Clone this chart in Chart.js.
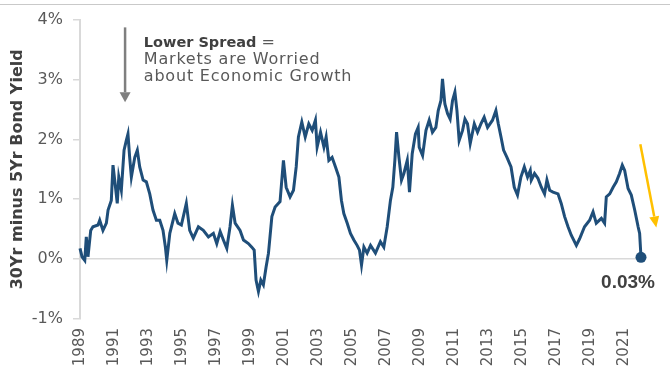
<!DOCTYPE html>
<html>
<head>
<meta charset="utf-8">
<title>30Yr minus 5Yr Bond Yield</title>
<script src="https://cdn.jsdelivr.net/npm/chart.js@4.4.1/dist/chart.umd.min.js"></script>
<style>
  html, body { margin: 0; padding: 0; background: #fff; }
  #wrap { position: relative; width: 670px; height: 375px; }
  #topRule { position: absolute; left: 0; right: 0; top: 4px; border-top: 1.5px solid #c9c9c9; }
</style>
</head>
<body>
<div id="wrap">
  <div id="topRule"></div>
  <canvas id="spreadChart"></canvas>
</div>
<script>
// values: decimal year and spread in %
const years = [
  1989.00, 1989.12, 1989.28, 1989.37, 1989.47, 1989.63, 1989.76, 1990.06, 1990.16, 1990.35,
  1990.55, 1990.65, 1990.84, 1990.94, 1991.04, 1991.19, 1991.28, 1991.43, 1991.59, 1991.72,
  1991.82, 1991.92, 1992.02, 1992.22, 1992.37, 1992.51, 1992.71, 1992.90, 1993.10, 1993.29,
  1993.49, 1993.69, 1993.88, 1994.02, 1994.10, 1994.28, 1994.57, 1994.76, 1994.96, 1995.25,
  1995.45, 1995.66, 1995.96, 1996.25, 1996.55, 1996.84, 1997.04, 1997.24, 1997.43, 1997.63,
  1997.82, 1997.96, 1998.12, 1998.41, 1998.61, 1998.90, 1999.10, 1999.24, 1999.35, 1999.49,
  1999.63, 1999.78, 1999.94, 2000.08, 2000.28, 2000.47, 2000.76, 2000.96, 2001.12, 2001.35,
  2001.55, 2001.71, 2001.84, 2002.04, 2002.24, 2002.45, 2002.65, 2002.84, 2002.94, 2003.14,
  2003.34, 2003.47, 2003.63, 2003.82, 2004.02, 2004.22, 2004.37, 2004.51, 2004.71, 2004.90,
  2005.10, 2005.29, 2005.43, 2005.55, 2005.69, 2005.88, 2006.08, 2006.37, 2006.66, 2006.86,
  2007.06, 2007.25, 2007.39, 2007.51, 2007.61, 2007.75, 2007.90, 2008.04, 2008.24, 2008.37,
  2008.53, 2008.72, 2008.88, 2008.94, 2009.14, 2009.34, 2009.53, 2009.72, 2009.92, 2010.06,
  2010.22, 2010.31, 2010.45, 2010.61, 2010.76, 2010.90, 2011.04, 2011.16, 2011.29, 2011.49,
  2011.63, 2011.78, 2011.94, 2012.18, 2012.37, 2012.57, 2012.76, 2012.96, 2013.25, 2013.45,
  2013.59, 2013.75, 2013.90, 2014.10, 2014.34, 2014.53, 2014.72, 2014.92, 2015.12, 2015.31,
  2015.47, 2015.53, 2015.72, 2015.92, 2016.12, 2016.31, 2016.45, 2016.61, 2016.81, 2017.10,
  2017.29, 2017.49, 2017.69, 2017.88, 2018.18, 2018.37, 2018.66, 2018.96, 2019.16, 2019.35,
  2019.65, 2019.84, 2019.94, 2020.14, 2020.34, 2020.53, 2020.72, 2020.88, 2021.02, 2021.22,
  2021.41, 2021.61, 2021.81, 2021.90, 2021.98
];
const spread = [
  0.18, 0.04, -0.02, 0.37, 0.04, 0.48, 0.54, 0.57, 0.65, 0.48,
  0.60, 0.82, 0.98, 1.57, 1.32, 0.93, 1.37, 1.15, 1.82, 1.98,
  2.09, 1.70, 1.37, 1.70, 1.82, 1.54, 1.32, 1.29, 1.09, 0.82,
  0.65, 0.65, 0.48, 0.20, -0.02, 0.43, 0.76, 0.60, 0.57, 0.93,
  0.48, 0.35, 0.54, 0.48, 0.37, 0.43, 0.26, 0.46, 0.32, 0.18,
  0.54, 0.90, 0.60, 0.48, 0.32, 0.26, 0.20, 0.15, -0.35, -0.54,
  -0.35, -0.43, -0.13, 0.10, 0.71, 0.87, 0.96, 1.65, 1.20, 1.04,
  1.15, 1.54, 2.04, 2.29, 2.04, 2.26, 2.15, 2.32, 1.87, 2.12,
  1.87, 2.04, 1.65, 1.70, 1.54, 1.37, 0.98, 0.76, 0.60, 0.43,
  0.32, 0.23, 0.15, -0.10, 0.20, 0.10, 0.23, 0.10, 0.29, 0.20,
  0.54, 0.98, 1.20, 1.65, 2.12, 1.70, 1.32, 1.43, 1.65, 1.12,
  1.76, 2.09, 2.20, 1.87, 1.73, 2.15, 2.32, 2.12, 2.20, 2.48,
  2.65, 3.01, 2.59, 2.43, 2.34, 2.65, 2.79, 2.48, 1.98, 2.15,
  2.34, 2.26, 1.93, 2.26, 2.12, 2.26, 2.37, 2.20, 2.32, 2.48,
  2.26, 2.04, 1.82, 1.70, 1.54, 1.20, 1.07, 1.37, 1.54, 1.37,
  1.48, 1.32, 1.43, 1.35, 1.20, 1.09, 1.32, 1.15, 1.12, 1.09,
  0.93, 0.71, 0.54, 0.40, 0.23, 0.34, 0.54, 0.65, 0.79, 0.60,
  0.68, 0.60, 1.04, 1.09, 1.20, 1.29, 1.43, 1.57, 1.48, 1.18,
  1.07, 0.82, 0.54, 0.43, 0.03
];
const yearTicks = [1989, 1991, 1993, 1995, 1997, 1999, 2001, 2003, 2005, 2007, 2009, 2011, 2013, 2015, 2017, 2019, 2021];
const pctTicks = [-1, 0, 1, 2, 3, 4];
const axisTitle = "30Yr minus 5Yr Bond Yield";
const noteBold = "Lower Spread";
const noteRest = ["Markets are Worried", "about Economic Growth"];
const lastLabel = "0.03%";

const NAVY = "#1f4e79";
const GREY_TXT = "#595959";
const DARK_TXT = "#404040";
const AXIS_GREY = "#d9d9d9";

function drawArrow(ctx, x1, y1, x2, y2, color, width, headLen, headHalf) {
    const ang = Math.atan2(y2 - y1, x2 - x1);
    const bx = x2 - headLen * Math.cos(ang);
    const by = y2 - headLen * Math.sin(ang);
    ctx.strokeStyle = color;
    ctx.fillStyle = color;
    ctx.lineWidth = width;
    ctx.beginPath();
    ctx.moveTo(x1, y1);
    ctx.lineTo(bx, by);
    ctx.stroke();
    ctx.beginPath();
    ctx.moveTo(x2, y2);
    ctx.lineTo(bx + headHalf * Math.sin(ang), by - headHalf * Math.cos(ang));
    ctx.lineTo(bx - headHalf * Math.sin(ang), by + headHalf * Math.cos(ang));
    ctx.closePath();
    ctx.fill();
}

// arrows, note text and end label
const notes = {
    id: "notes",
    afterDatasetsDraw(chart) {
        const { ctx, scales: { x, y } } = chart;
        ctx.save();

        // grey arrow + comment
        drawArrow(ctx, x.getPixelForValue(1991.65), y.getPixelForValue(3.87),
            x.getPixelForValue(1991.65), y.getPixelForValue(2.62), "#7f7f7f", 2.5, 10, 5.5);

        const tx = x.getPixelForValue(1992.75);
        const ty = y.getPixelForValue(3.54);
        ctx.textAlign = "left";
        ctx.textBaseline = "alphabetic";
        ctx.font = "bold 14.5px 'DejaVu Sans'";
        ctx.fillStyle = DARK_TXT;
        ctx.fillText(noteBold, tx, ty);
        const w = ctx.measureText(noteBold).width;
        ctx.font = "16px 'DejaVu Sans'";
        ctx.fillStyle = GREY_TXT;
        ctx.fillText(" =", tx + w, ty);
        ctx.letterSpacing = "0.8px";
        noteRest.forEach((line, i) => ctx.fillText(line, tx, ty + 17 * (i + 1)));
        ctx.letterSpacing = "0px";

        // yellow arrow to the right of the last value
        drawArrow(ctx, x.getPixelForValue(2021.94), y.getPixelForValue(1.92),
            x.getPixelForValue(2022.88), y.getPixelForValue(0.53), "#ffc000", 2.5, 11, 5);

        // end value label
        const meta = chart.getDatasetMeta(0);
        const last = meta.data[meta.data.length - 1];
        ctx.font = "bold 19px 'Liberation Sans'";
        ctx.fillStyle = DARK_TXT;
        ctx.textAlign = "center";
        ctx.fillText(lastLabel, last.x - 13, last.y + 31);
        ctx.restore();
    }
};

const ctx = document.getElementById("spreadChart").getContext("2d");
new Chart(ctx, {
    type: "line",
    data: {
        datasets: [{
            data: years.map((yr, i) => ({ x: yr, y: spread[i] })),
            borderColor: NAVY,
            borderWidth: 3,
            tension: 0,
            clip: false,
            pointRadius: c => (c.dataIndex === spread.length - 1 ? 5.5 : 0),
            pointBackgroundColor: NAVY,
            pointBorderWidth: 0
        }]
    },
    options: {
        responsive: true,
        maintainAspectRatio: false,
        animation: false,
        layout: { padding: { top: 19, right: 29, left: 0, bottom: 0 } },
        plugins: { legend: { display: false }, tooltip: { enabled: false } },
        scales: {
            x: {
                type: "linear",
                min: 1989,
                max: years[years.length - 1],
                afterBuildTicks: s => { s.ticks = yearTicks.map(v => ({ value: v })); },
                afterFit: s => { s.height = 56; },
                grid: { display: false, drawTicks: false },
                border: { display: false },
                ticks: {
                    autoSkip: false,
                    minRotation: 90,
                    maxRotation: 90,
                    padding: 9,
                    color: GREY_TXT,
                    font: { family: "'DejaVu Sans'", size: 15 },
                    callback: v => String(v)
                }
            },
            y: {
                min: -1,
                max: 4,
                afterBuildTicks: s => { s.ticks = pctTicks.map(v => ({ value: v })); },
                afterFit: s => { s.width = 80; },
                grid: {
                    color: c => (c.tick && c.tick.value === 0 ? AXIS_GREY : "rgba(0,0,0,0)"),
                    lineWidth: 1.5,
                    tickColor: AXIS_GREY,
                    tickLength: 7
                },
                border: { display: true, color: AXIS_GREY, width: 2 },
                ticks: {
                    padding: 10,
                    color: GREY_TXT,
                    font: { family: "'DejaVu Sans'", size: 16 },
                    callback: v => v + "%"
                },
                title: {
                    display: true,
                    text: axisTitle,
                    color: DARK_TXT,
                    font: { family: "'DejaVu Sans'", size: 16, weight: "bold" },
                    padding: { top: 8, bottom: 0 }
                }
            }
        }
    },
    plugins: [notes]
});
</script>
</body>
</html>
